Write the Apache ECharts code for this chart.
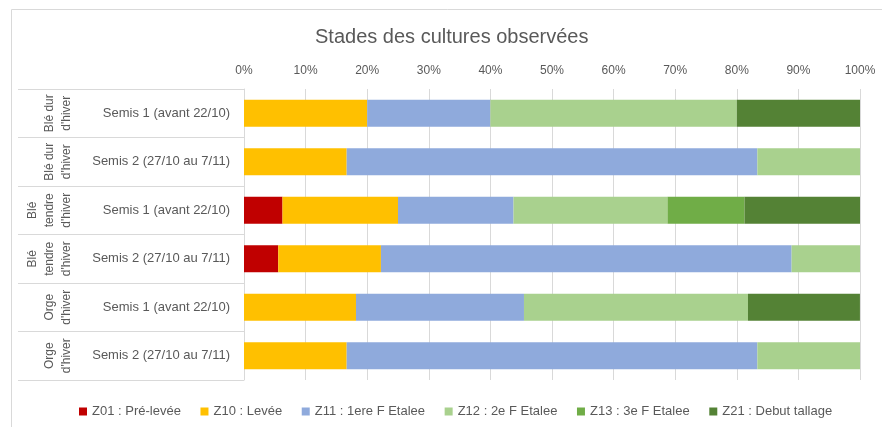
<!DOCTYPE html>
<html>
<head>
<meta charset="utf-8">
<script src="https://cdn.jsdelivr.net/npm/echarts@6/dist/echarts.min.js"></script>
<style>html,body{margin:0;padding:0;background:#fff;}#c{width:882px;height:427px;}</style>
</head>
<body>
<div id="c"></div>
<script>
const titleText = 'Stades des cultures observées';
const semis = ['Semis 1 (avant 22/10)', 'Semis 2 (27/10 au 7/11)', 'Semis 1 (avant 22/10)', 'Semis 2 (27/10 au 7/11)', 'Semis 1 (avant 22/10)', 'Semis 2 (27/10 au 7/11)'];
const cultures = ["Blé dur\nd'hiver", "Blé dur\nd'hiver", "Blé\ntendre\nd'hiver", "Blé\ntendre\nd'hiver", "Orge\nd'hiver", "Orge\nd'hiver"];
const seriesNames = ['Z01 : Pré-levée', 'Z10 : Levée', 'Z11 : 1ere F Etalee', 'Z12 : 2e F Etalee', 'Z13 : 3e F Etalee', 'Z21 : Debut tallage'];
const z01 = [0, 0, 6.25, 5.56, 0, 0];
const z10 = [20, 16.67, 18.75, 16.67, 18.18, 16.67];
const z11 = [20, 66.67, 18.75, 66.67, 27.27, 66.67];
const z12 = [40, 16.67, 25, 11.11, 36.36, 16.67];
const z13 = [0, 0, 12.5, 0, 0, 0];
const z21 = [20, 0, 18.75, 0, 18.18, 0];
const colors = ['#C00000', '#FFC000', '#8FAADC', '#A9D18E', '#70AD47', '#548235'];

const values = [z01, z10, z11, z12, z13, z21];
const font = 'Liberation Sans, Arial, sans-serif';
const txt = '#595959';
const line = '#D9D9D9';

const chart = echarts.init(document.getElementById('c'), null, {renderer: 'canvas'});
chart.setOption({
  animation: false,
  color: colors,
  textStyle: {fontFamily: font},
  graphic: [{
    type: 'rect', left: 9, top: 7, z: -10,
    shape: {width: 900, height: 450},
    style: {fill: 'none', stroke: line, lineWidth: 1}
  }],
  title: {
    text: titleText, left: 315, top: 27, padding: 0,
    textStyle: {fontSize: 20, fontWeight: 'normal', color: txt, fontFamily: font}
  },
  legend: {
    left: 79, top: 405, padding: 0,
    itemWidth: 8, itemHeight: 8, itemGap: 19.6, icon: 'rect',
    textStyle: {fontSize: 13, color: txt, fontFamily: font},
    data: seriesNames
  },
  grid: {left: 244, right: 22, top: 89, bottom: 47, containLabel: false},
  xAxis: {
    type: 'value', position: 'top', min: 0, max: 100, interval: 10,
    axisLine: {show: false}, axisTick: {show: false},
    axisLabel: {formatter: '{value}%', color: txt, fontSize: 12, margin: 12, fontFamily: font},
    splitLine: {lineStyle: {color: line, width: 1}}
  },
  yAxis: [{
    type: 'category', inverse: true, data: semis,
    axisLine: {show: true, lineStyle: {color: line}},
    axisTick: {show: true, length: 226, lineStyle: {color: line}},
    axisLabel: {color: txt, fontSize: 13, margin: 14, interval: 0, fontFamily: font}
  }, {
    type: 'category', inverse: true, data: cultures, position: 'left', offset: 161,
    axisLine: {show: false}, axisTick: {show: false},
    axisLabel: {color: txt, fontSize: 12, rotate: 90, lineHeight: 17, margin: 8, interval: 0, fontFamily: font}
  }],
  series: seriesNames.map((n, i) => ({
    name: n, type: 'bar', stack: 'total', barCategoryGap: '44%',
    yAxisIndex: 0,
    itemStyle: {color: colors[i]},
    data: values[i]
  }))
});
</script>
</body>
</html>
